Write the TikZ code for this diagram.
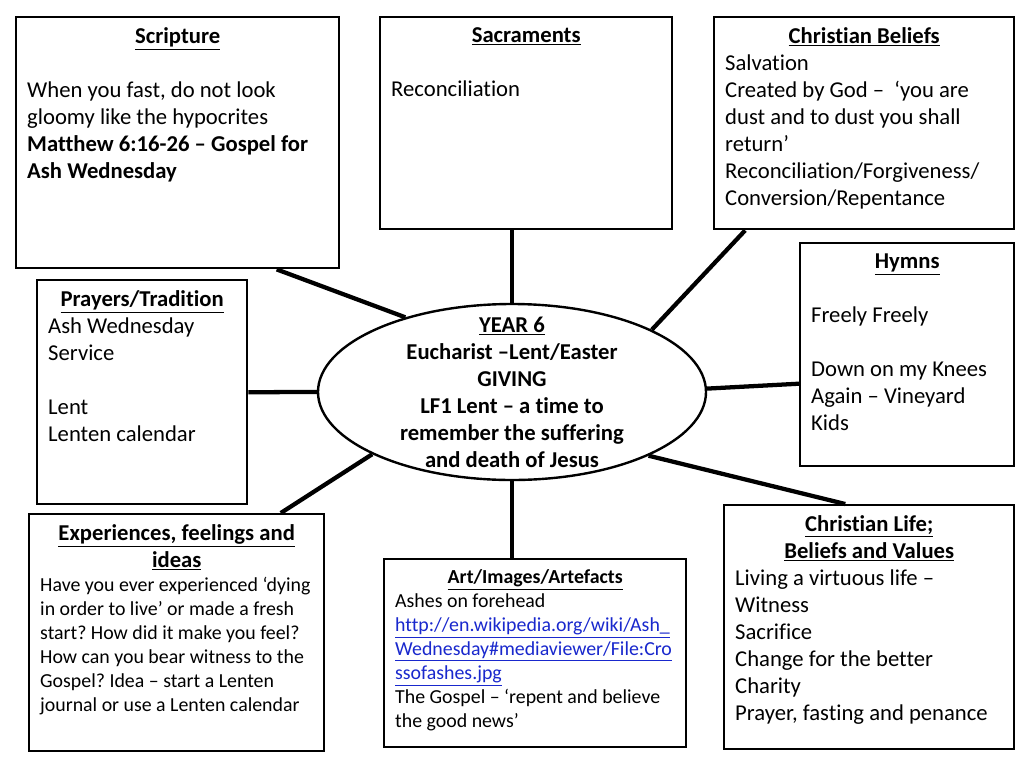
\documentclass[tikz,border=0pt]{standalone}
\usepackage{fontspec}
\setmainfont[Ligatures={TeX,NoCommon}]{Carlito}
\usetikzlibrary{shapes.geometric}

\definecolor{linkblue}{RGB}{25,40,205}
\newlength\pxu
\setlength\pxu{0.75pt}
\newcommand\bigtxt{\fontsize{17}{20.25}\selectfont}
\newcommand\smalltxt{\fontsize{14.9}{18}\selectfont}
% text block of a card: width and height of the card in px
\newcommand\cardtext[3]{\parbox[c][\dimexpr#2\pxu-21\pxu\relax][t]{\dimexpr#1\pxu-22\pxu\relax}{\raggedright\frenchspacing#3}}
\newcommand\head[1]{{\centering\textbf{\underline{#1}}\par}}
\newcommand\weblink[1]{\textcolor{linkblue}{\underline{#1}}}

\begin{document}
\begin{tikzpicture}[x=0.75pt,y=-0.75pt,
  card/.style={draw, fill=white, line width=1.8pt, anchor=north west, inner xsep=8.25pt, inner ysep=7.875pt},
  spoke/.style={line width=3.2pt},
  every node/.append style={font=\bigtxt}]
\fill[white] (0,0) rectangle (1024,768);
\useasboundingbox (0,0) rectangle (1024,768);

% top row
\node[card] (scripture) at (15,16) {\cardtext{323}{251}{\head{Scripture}\vspace{\baselineskip}
When you fast, do not look\\gloomy like the hypocrites\\\textbf{Matthew 6:16-26 – Gospel for\\Ash Wednesday}}};
\node[card] (sacraments) at (379,16) {\cardtext{292}{212}{\head{Sacraments}\vspace{\baselineskip}
Reconciliation}};
\node[card] (beliefs) at (713,16) {\cardtext{300}{212}{\head{Christian Beliefs}
Salvation\\Created by God –~ ‘you are\\dust and to dust you shall\\return’\\Reconciliation/Forgiveness/\\Conversion/Repentance}};

% middle row
\node[card] (prayers) at (36,279) {\cardtext{210}{224}{\head{Prayers/Tradition}
Ash Wednesday\\Service\\[\baselineskip]Lent\\Lenten calendar}};
\node[card] (hymns) at (799,242) {\cardtext{214}{223}{\head{Hymns}\vspace{\baselineskip}
Freely Freely\\[\baselineskip]Down on my Knees\\Again – Vineyard\\Kids}};
\node[draw, ellipse, fill=white, line width=1.8pt, minimum width=291pt, minimum height=132pt] (centre) at (512,392) {};
\node[font=\bigtxt\bfseries, align=center] (theme) at (centre.center) {\underline{YEAR 6}\\Eucharist –Lent/Easter\\GIVING\\LF1 Lent – a time to\\remember the suffering\\and death of Jesus};

% bottom row
\node[card] (experiences) at (28,513) {\cardtext{295}{237}{\head{Experiences, feelings and}\head{ideas}
\smalltxt Have you ever experienced ‘dying\\in order to live’ or made a fresh\\start? How did it make you feel?\\How can you bear witness to the\\Gospel? Idea – start a Lenten\\journal or use a Lenten calendar\par}};
\node[card] (art) at (383,558) {\cardtext{302}{188}{\smalltxt\head{Art/Images/Artefacts}
Ashes on forehead\\\weblink{http://en.wikipedia.org/wiki/Ash\_}\\\weblink{Wednesday\#mediaviewer/File:Cro}\\\weblink{ssofashes.jpg}\\The Gospel – ‘repent and believe\\the good news’\par}};
\node[card] (life) at (723,504) {\cardtext{290}{244}{\head{Christian Life;}\head{Beliefs and Values}
Living a virtuous life –\\Witness\\Sacrifice\\Change for the better\\Charity\\Prayer, fasting and penance}};

% spokes
\draw[spoke] (scripture.-52) -- (centre.145);
\draw[spoke] (centre.north) -- (centre.north |- sacraments.south);
\draw[spoke] (beliefs.-138) -- (centre.24);
\draw[spoke] (prayers.east) -- (centre.west);
\draw[spoke] (hymns.195) -- (centre.1);
\draw[spoke] (experiences.49) -- (centre.204);
\draw[spoke] (centre.south) -- (centre.south |- art.north);
\draw[spoke] (life.101) -- (centre.335);
\end{tikzpicture}
\end{document}
